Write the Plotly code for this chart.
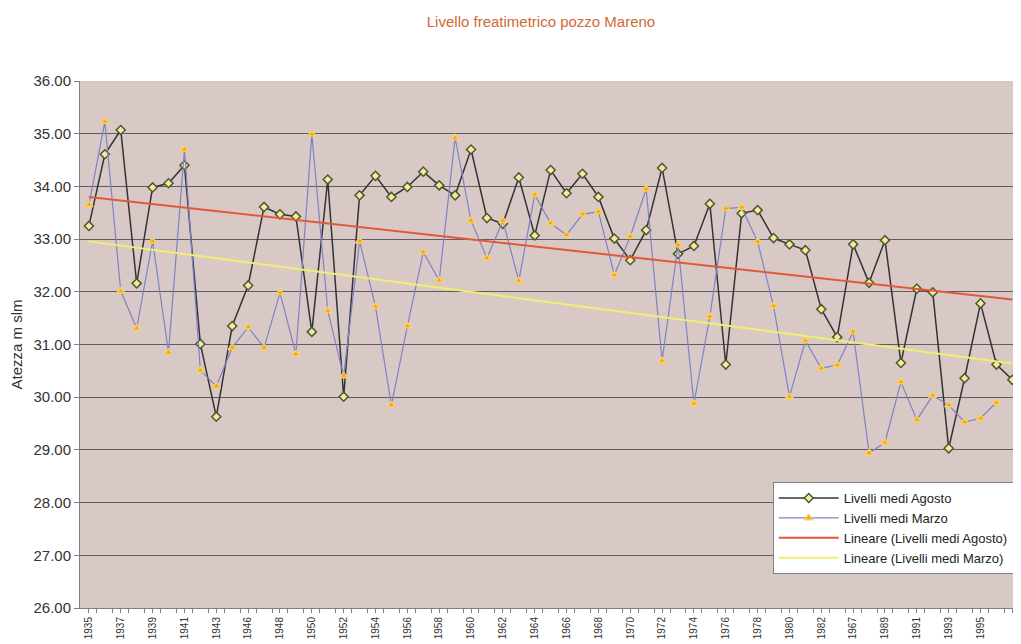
import numpy as np
import plotly.graph_objects as go

years = ["1935", "1936", "1937", "1938", "1939", "1940", "1941", "1942", "1943", "1945",
         "1946", "1947", "1948", "1949", "1950", "1951", "1952", "1953", "1954", "1955",
         "1956", "1957", "1958", "1959", "1960", "1961", "1962", "1963", "1964", "1965",
         "1966", "1967", "1968", "1969", "1970", "1971", "1972", "1973", "1974", "1975",
         "1976", "1977", "1978", "1979", "1980", "1981", "1982", "1985", "1967", "1988",
         "1989", "1990", "1991", "1992", "1993", "1994", "1995", "1996", "1997"]

agosto = [33.25, 34.61, 35.07, 32.16, 33.98, 34.06, 34.40, 31.01, 29.63, 31.35,
          32.12, 33.61, 33.47, 33.43, 31.24, 34.13, 30.01, 33.83, 34.20, 33.80,
          33.99, 34.28, 34.02, 33.83, 34.70, 33.40, 33.29, 34.17, 33.07, 34.31,
          33.87, 34.24, 33.80, 33.01, 32.60, 33.17, 34.35, 32.72, 32.87, 33.67,
          30.62, 33.49, 33.55, 33.02, 32.90, 32.79, 31.67, 31.14, 32.90, 32.17,
          32.98, 30.65, 32.06, 31.99, 29.03, 30.36, 31.78, 30.62, 30.33]

marzo = [33.65, 35.23, 32.01, 31.31, 32.96, 30.85, 34.70, 30.51, 30.21, 30.94,
         31.33, 30.94, 31.98, 30.82, 34.99, 31.64, 30.40, 32.96, 31.72, 29.85,
         31.35, 32.75, 32.22, 34.92, 33.35, 32.64, 33.35, 32.21, 33.84, 33.30,
         33.08, 33.47, 33.52, 32.32, 33.05, 33.95, 30.69, 32.89, 29.88, 31.53,
         33.58, 33.60, 32.95, 31.73, 30.01, 31.07, 30.55, 30.61, 31.24, 28.94,
         29.14, 30.29, 29.57, 30.03, 29.85, 29.53, 29.60, 29.90, None]

idx = list(range(len(years)))

def trend(vals):
    xs = np.array([i for i, v in zip(idx, vals) if v is not None], dtype=float)
    ys = np.array([v for v in vals if v is not None], dtype=float)
    m, b = np.polyfit(xs, ys, 1)
    return [m * i + b for i in idx]

fig = go.Figure()
fig.add_trace(go.Scatter(
    x=idx, y=agosto, mode="lines+markers", name="Livelli medi Agosto",
    line=dict(color="#333333", width=1.5),
    marker=dict(symbol="diamond", size=7, color="#f3e9a0",
                line=dict(color="#4b5a2c", width=1.5))))
fig.add_trace(go.Scatter(
    x=idx, y=marzo, mode="lines+markers", name="Livelli medi Marzo",
    line=dict(color="#7f82c4", width=1.2),
    marker=dict(symbol="triangle-up", size=7, color="#f0a41e",
                line=dict(color="#f8d060", width=1.5))))
fig.add_trace(go.Scatter(
    x=idx, y=trend(agosto), mode="lines", name="Lineare (Livelli medi Agosto)",
    line=dict(color="#e4583a", width=2)))
fig.add_trace(go.Scatter(
    x=idx, y=trend(marzo), mode="lines", name="Lineare (Livelli medi Marzo)",
    line=dict(color="#f2ee70", width=2)))

tickvals = idx[::2]
ticktext = years[::2]

fig.update_layout(
    width=1005, height=636,
    margin=dict(l=72, r=0, t=73, b=36, autoexpand=False),
    paper_bgcolor="white",
    plot_bgcolor="#d9c9c6",
    font=dict(family="Liberation Sans, Arial, sans-serif", color="#333333", size=11),
    title=dict(text="Livello freatimetrico pozzo Mareno", xref="container",
               x=533 / 1005, xanchor="center", yref="container", y=1 - 14 / 636,
               yanchor="middle", font=dict(size=15, color="#cf6a33")),
    showlegend=True,
    legend=dict(x=0.7425, y=0.239, xanchor="left", yanchor="top",
                bgcolor="white", bordercolor="#808080", borderwidth=1,
                font=dict(size=13, color="#222222"),
                tracegroupgap=0, itemwidth=60),
)
fig.update_xaxes(
    automargin=False,
    range=[-0.56, 58.04], tickmode="array", tickvals=tickvals, ticktext=ticktext,
    tickangle=-90, tickfont=dict(size=10, color="#333333"),
    showgrid=False, zeroline=False, showline=True, linecolor="#808080",
    ticks="outside", ticklen=4, tickcolor="#808080",
    minor=dict(tickvals=[i + 0.5 for i in idx], ticks="outside", ticklen=4,
               tickcolor="#808080", showgrid=False),
)
fig.update_yaxes(
    automargin=False,
    range=[26, 36], dtick=1, tick0=26, tickformat=".2f",
    title=dict(text="Atezza m slm", font=dict(size=15, color="#333333"), standoff=14),
    tickfont=dict(size=15, color="#333333"),
    showgrid=True, gridcolor="#5e5e5e", gridwidth=1, zeroline=False,
    showline=True, linecolor="#808080", mirror=True,
    ticks="outside", ticklen=5, tickcolor="#808080",
)

fig.write_html("out.html")
